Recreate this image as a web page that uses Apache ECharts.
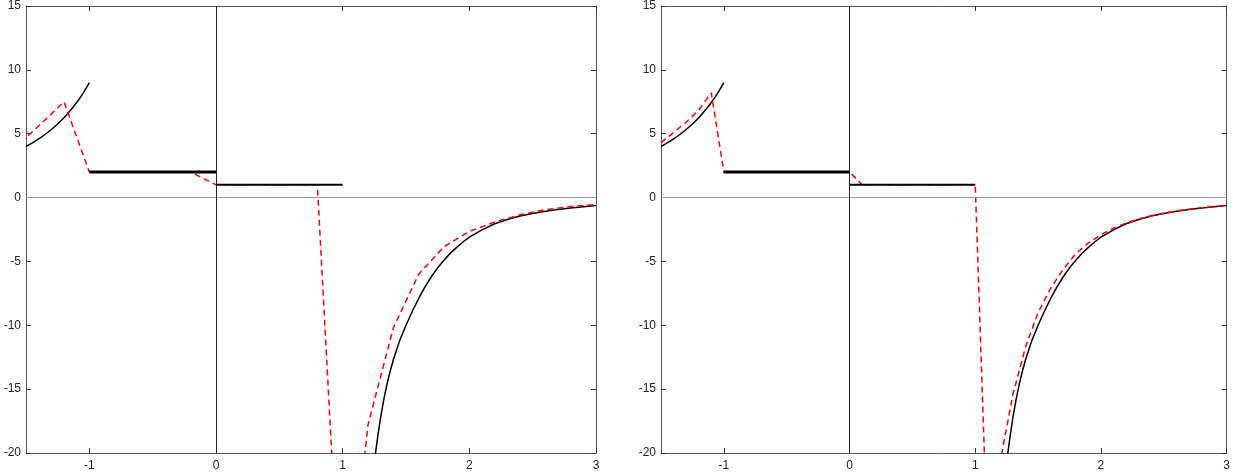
<!DOCTYPE html>
<html><head><meta charset="utf-8">
<script src="https://cdn.jsdelivr.net/npm/echarts@6/dist/echarts.min.js"></script>
<style>html,body{margin:0;padding:0;background:#fff}#c{width:1233px;height:475px}</style>
</head><body><div id="c"></div>
<script>
// tick labels
const xTickValues = [-1, 0, 1, 2, 3];
const yMin = -20, yMax = 15, yStep = 5;
const xMin = -1.5, xMax = 3;

// exact solution (black)
const blackLeft = [[-1.5,4.0],[-1.45,4.28],[-1.4,4.59],[-1.35,4.94],[-1.3,5.33],[-1.25,5.76],[-1.2,6.25],[-1.15,6.81],[-1.1,7.44],[-1.05,8.16],[-1.0,9.0]];
const blackStep2 = [[-1,2],[0,2]];
const blackStep1 = [[0,1],[1,1]];
const blackRight = [[1.255,-20.3],[1.28,-18.5],[1.3,-17.2],[1.325,-15.8],[1.35,-14.6],[1.375,-13.6],[1.4,-12.7],[1.45,-11.2],[1.5,-10.0],[1.55,-8.9],[1.6,-7.9],[1.65,-7.0],[1.7,-6.2],[1.75,-5.5],[1.8,-4.9],[1.85,-4.35],[1.9,-3.9],[1.95,-3.48],[2.0,-3.1],[2.1,-2.53],[2.2,-2.05],[2.3,-1.72],[2.4,-1.45],[2.5,-1.24],[2.6,-1.07],[2.7,-0.93],[2.8,-0.81],[2.9,-0.71],[3.0,-0.62]];

// approximation, left panel (coarse step)
const redLeft = [[-1.6,3.8],[-1.4,5.6],[-1.2,7.5],[-1.0,2.0],[-0.8,2],[-0.6,2],[-0.4,2],[-0.2,2],[0,1],[0.2,1],[0.4,1],[0.6,1],[0.8,1],[1.0,-36],[1.2,-17.8],[1.4,-10.2],[1.6,-6.0],[1.8,-3.85],[2.0,-2.65],[2.2,-1.92],[2.4,-1.35],[2.6,-0.95],[2.8,-0.7],[3.0,-0.55]];

// approximation, right panel (finer step)
const redRight = [[-1.5,4.3],[-1.4,5.1],[-1.3,5.9],[-1.2,6.85],[-1.1,8.2],[-1.0,2.0],[-0.9,2],[-0.8,2],[-0.7,2],[-0.6,2],[-0.5,2],[-0.4,2],[-0.3,2],[-0.2,2],[-0.1,2],[0,2],[0.1,1],[0.2,1],[0.3,1],[0.4,1],[0.5,1],[0.6,1],[0.7,1],[0.8,1],[0.9,1],[1.0,1],[1.1,-28],[1.2,-20.6],[1.3,-15.4],[1.4,-11.7],[1.5,-9.0],[1.6,-7.1],[1.7,-5.6],[1.8,-4.4],[1.9,-3.55],[2.0,-2.9],[2.1,-2.4],[2.2,-2.0],[2.3,-1.68],[2.4,-1.42],[2.5,-1.22],[2.6,-1.05],[2.7,-0.92],[2.8,-0.8],[2.9,-0.7],[3.0,-0.62]];

const frameColor = '#555';
const labelStyle = {color:'#222', fontSize:12, fontFamily:'Liberation Sans, Arial, sans-serif'};

function xAxes(gi){
  const base = {gridIndex:gi, type:'value', min:xMin, max:xMax,
    axisLine:{show:true, onZero:false, lineStyle:{color:frameColor, width:1}},
    axisTick:{show:true, inside:true, length:5, customValues:xTickValues, lineStyle:{color:'#333', width:1}},
    splitLine:{show:false}};
  return [
    Object.assign({}, base, {position:'bottom', axisLabel:Object.assign({show:true, margin:7, customValues:xTickValues}, labelStyle)}),
    Object.assign({}, base, {position:'top', axisLabel:{show:false}})
  ];
}
function yAxes(gi){
  const base = {gridIndex:gi, type:'value', min:yMin, max:yMax, interval:yStep,
    axisLine:{show:true, onZero:false, lineStyle:{color:frameColor, width:1}},
    axisTick:{show:true, inside:true, length:5, lineStyle:{color:'#333', width:1}},
    splitLine:{show:false}};
  return [
    Object.assign({}, base, {position:'left', axisLabel:Object.assign({show:true, margin:5}, labelStyle)}),
    Object.assign({}, base, {position:'right', axisLabel:{show:false}})
  ];
}

function panelSeries(gi, red){
  const xi = gi*2, yi = gi*2;
  const common = {type:'line', xAxisIndex:xi, yAxisIndex:yi, showSymbol:false, symbol:'none', silent:true, clip:true};
  return [
    Object.assign({}, common, {data:[], z:1,
      markLine:{silent:true, symbol:'none', label:{show:false}, animation:false,
        data:[{yAxis:0, lineStyle:{color:'#999', width:1, type:'solid'}},
              {xAxis:0, lineStyle:{color:'#222', width:1, type:'solid'}}]}}),
    Object.assign({}, common, {data:blackLeft, smooth:0.3, lineStyle:{color:'#000', width:1.5}, z:3}),
    Object.assign({}, common, {data:blackRight, lineStyle:{color:'#000', width:1.5, join:'round'}, z:3}),
    Object.assign({}, common, {data:red, lineStyle:{color:'#ff0000', width:1.5, type:[6,4]}, z:4}),
    Object.assign({}, common, {data:blackStep2, lineStyle:{color:'#000', width:3}, z:5}),
    Object.assign({}, common, {data:blackStep1, lineStyle:{color:'#000', width:2}, z:5})
  ];
}

const chart = echarts.init(document.getElementById('c'), null, {renderer:'canvas'});
chart.setOption({
  animation:false,
  backgroundColor:'#fff',
  grid:[
    {left:26, right:637, top:6, bottom:22},
    {left:661, right:6, top:6, bottom:22}
  ],
  xAxis: xAxes(0).concat(xAxes(1)),
  yAxis: yAxes(0).concat(yAxes(1)),
  series: panelSeries(0, redLeft).concat(panelSeries(1, redRight))
});
</script>
</body></html>
